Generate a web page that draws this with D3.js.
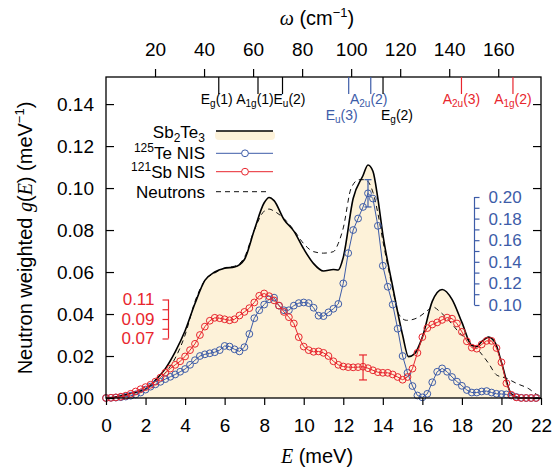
<!DOCTYPE html>
<html>
<head>
<meta charset="utf-8">
<script src="https://cdn.jsdelivr.net/npm/d3@7"></script>
<style>
body { margin: 0; background: #fff; }
svg { display: block; }
text { font-family: "Liberation Sans", Arial, sans-serif; }
</style>
</head>
<body>
<div id="vis"></div>
<script>
// Sb2Te3 total (neutron weighted) DOS
const sbEnergy = [0, 0.5, 1, 1.5, 2, 2.5, 3, 3.5, 4, 4.5, 5, 5.5, 6, 6.5, 7, 7.5, 8, 8.25, 8.5, 9, 9.5, 10, 10.5, 11, 11.5, 11.75, 12, 12.5, 13, 13.25, 13.5, 13.75, 14, 14.5, 15, 15.3, 15.6, 16, 16.5, 17, 17.5, 18, 18.5, 18.75, 19, 19.35, 19.7, 20, 20.5, 21, 21.5, 22];
const sbDos = [0, 0.0005, 0.0015, 0.0028, 0.0042, 0.0085, 0.014, 0.022, 0.032, 0.045, 0.056, 0.060, 0.0618, 0.0624, 0.066, 0.080, 0.093, 0.0955, 0.094, 0.085, 0.0795, 0.071, 0.064, 0.0605, 0.0612, 0.061, 0.067, 0.095, 0.106, 0.111, 0.108, 0.095, 0.078, 0.053, 0.030, 0.0197, 0.021, 0.029, 0.046, 0.0517, 0.047, 0.036, 0.025, 0.0245, 0.0268, 0.029, 0.026, 0.017, 0.002, 0, 0, 0];

// inelastic neutron scattering
const neutEnergy = [0, 0.5, 1, 1.5, 2, 2.5, 3, 3.5, 4, 4.5, 5, 5.5, 6, 6.5, 7, 7.5, 8, 8.25, 8.5, 9, 9.5, 10, 10.5, 11, 11.5, 11.75, 12, 12.4, 12.8, 13.1, 13.5, 13.75, 14, 14.5, 14.8, 15.2, 15.7, 16.3, 16.5, 16.9, 17.4, 17.9, 18.4, 18.9, 19.35, 19.75, 20.25, 20.75, 21.35, 21.85, 22];
const neutDos = [0, 0.0005, 0.0013, 0.0025, 0.004, 0.0075, 0.012, 0.019, 0.030, 0.046, 0.056, 0.0595, 0.062, 0.0628, 0.067, 0.080, 0.089, 0.090, 0.089, 0.0855, 0.080, 0.0735, 0.0697, 0.069, 0.0697, 0.0737, 0.081, 0.100, 0.104, 0.104, 0.098, 0.088, 0.075, 0.052, 0.040, 0.037, 0.038, 0.042, 0.0435, 0.041, 0.0363, 0.0308, 0.0268, 0.022, 0.0165, 0.011, 0.0094, 0.007, 0.0046, 0.0014, 0.001];

// NIS energy grid
const nisEnergy = [0, 0.25, 0.5, 0.75, 1, 1.25, 1.5, 1.75, 2, 2.25, 2.5, 2.75, 3, 3.25, 3.5, 3.75, 4, 4.25, 4.5, 4.75, 5, 5.25, 5.5, 5.75, 6, 6.25, 6.5, 6.75, 7, 7.25, 7.5, 7.75, 8, 8.25, 8.5, 8.75, 9, 9.25, 9.5, 9.75, 10, 10.25, 10.5, 10.75, 11, 11.25, 11.5, 11.75, 12, 12.25, 12.5, 12.75, 13, 13.25, 13.5, 13.75, 14, 14.25, 14.5, 14.75, 15, 15.25, 15.5, 15.75, 16, 16.25, 16.5, 16.75, 17, 17.25, 17.5, 17.75, 18, 18.25, 18.5, 18.75, 19, 19.25, 19.5, 19.75, 20, 20.25, 20.5, 20.75, 21, 21.25, 21.5, 21.75];

const teDos = [0, 0.0001, 0.0002, 0.0004, 0.0007, 0.0011, 0.0017, 0.0026, 0.0040, 0.0054, 0.0065, 0.0077, 0.0090, 0.0101, 0.0112, 0.0125, 0.0138, 0.0158, 0.0180, 0.0200, 0.0208, 0.0213, 0.0218, 0.0228, 0.0248, 0.0245, 0.0232, 0.0222, 0.0242, 0.0305, 0.0380, 0.0418, 0.0445, 0.0470, 0.0478, 0.0440, 0.0418, 0.0418, 0.0440, 0.0452, 0.0455, 0.0452, 0.0430, 0.0392, 0.0390, 0.0408, 0.0425, 0.0448, 0.0546, 0.0690, 0.0800, 0.0855, 0.0910, 0.0975, 0.0950, 0.0820, 0.0630, 0.0530, 0.0445, 0.0330, 0.0200, 0.0120, 0.0057, 0.0012, 0.0003, 0.0020, 0.0075, 0.0125, 0.0141, 0.0125, 0.0100, 0.0078, 0.0058, 0.0038, 0.0026, 0.0026, 0.0031, 0.0033, 0.0026, 0.0020, 0.0019, 0.0017, 0.0012, 0.0005, 0.0001, 0, 0, 0];

const sbNisDos = [0, 0.0001, 0.0003, 0.0006, 0.0011, 0.0020, 0.0031, 0.0042, 0.0052, 0.0063, 0.0078, 0.0097, 0.0120, 0.0140, 0.0158, 0.0175, 0.0198, 0.0228, 0.0258, 0.0300, 0.0340, 0.0368, 0.0382, 0.0380, 0.0375, 0.0370, 0.0375, 0.0393, 0.0410, 0.0428, 0.0455, 0.0487, 0.0498, 0.0485, 0.0465, 0.0440, 0.0410, 0.0385, 0.0355, 0.0290, 0.0245, 0.0228, 0.0220, 0.0222, 0.0215, 0.0200, 0.0175, 0.0158, 0.0150, 0.0147, 0.0146, 0.0147, 0.0149, 0.0142, 0.0132, 0.0123, 0.0120, 0.0120, 0.0112, 0.0100, 0.0087, 0.0100, 0.0140, 0.0215, 0.0290, 0.0333, 0.0350, 0.0360, 0.0372, 0.0383, 0.0378, 0.0355, 0.0315, 0.0270, 0.0240, 0.0235, 0.0255, 0.0272, 0.0272, 0.0238, 0.0170, 0.0070, 0.0015, 0.0003, 0, 0, 0, 0];

// error bars [E, low, high]
const teError = [13.25, 0.091, 0.104];
const sbError = [13.0, 0.0086, 0.0205];

// Raman / IR modes (cm^-1)
const modeNames = [['E', 'g', '(1)'], ['A', '1g', '(1)'], ['E', 'u', '(2)'], ['E', 'u', '(3)'], ['A', '2u', '(2)'], ['E', 'g', '(2)'], ['A', '2u', '(3)'], ['A', '1g', '(2)']];
const modeOmega = [46, 62, 72, 99, 108, 113, 145, 166];
const modeKind = ['black', 'black', 'black', 'blue', 'blue', 'black', 'red', 'red'];

const xTicks = [0, 2, 4, 6, 8, 10, 12, 14, 16, 18, 20, 22];
const yTicks = [0, 0.02, 0.04, 0.06, 0.08, 0.10, 0.12, 0.14];
const omegaTicks = [20, 40, 60, 80, 100, 120, 140, 160];
const teScaleTicks = [0.10, 0.11, 0.12, 0.13, 0.14, 0.15, 0.16, 0.17, 0.18, 0.19, 0.20];
const sbScaleTicks = [0.07, 0.08, 0.09, 0.10, 0.11];

const meVtoCm = 8.0655;

const width = 552, height = 472;
const margin = { top: 77, right: 11, bottom: 74, left: 106 };
const plotW = width - margin.left - margin.right;
const plotH = height - margin.top - margin.bottom;

const blue = '#3d5ca8';
const red = '#e8262e';
const cream = '#fdf2d9';

const svg = d3.select('#vis')
    .append('svg')
    .attr('width', width)
    .attr('height', height);

const x = d3.scaleLinear().domain([0, 22]).range([margin.left, margin.left + plotW]);
const xTop = d3.scaleLinear().domain([0, 22 * meVtoCm]).range([margin.left, margin.left + plotW]);
const yMax = 0.1529;
const y = d3.scaleLinear().domain([0, yMax]).range([margin.top + plotH, margin.top]);

// fill + black line
const sbData = sbEnergy.map((e, i) => ({ e, g: sbDos[i] }));
svg.append('path')
    .datum(sbData)
    .attr('fill', cream)
    .attr('d', d3.area().x(d => x(d.e)).y0(y(0)).y1(d => y(d.g)).curve(d3.curveMonotoneX));

const neutData = neutEnergy.map((e, i) => ({ e, g: neutDos[i] }));
svg.append('path')
    .datum(neutData)
    .attr('fill', 'none')
    .attr('stroke', '#111')
    .attr('stroke-width', 1)
    .attr('stroke-dasharray', '5,4')
    .attr('d', d3.line().x(d => x(d.e)).y(d => y(d.g)).curve(d3.curveMonotoneX));

svg.append('path')
    .datum(sbData)
    .attr('fill', 'none')
    .attr('stroke', '#000')
    .attr('stroke-width', 1.6)
    .attr('d', d3.line().x(d => x(d.e)).y(d => y(d.g)).curve(d3.curveMonotoneX));

// NIS series
function drawNis(values, color) {
    const data = nisEnergy.map((e, i) => ({ e, g: values[i] }));
    const g = svg.append('g');
    g.append('path')
        .datum(data)
        .attr('fill', 'none')
        .attr('stroke', color)
        .attr('stroke-width', 1)
        .attr('d', d3.line().x(d => x(d.e)).y(d => y(d.g)));
    g.selectAll('circle')
        .data(data)
        .join('circle')
        .attr('cx', d => x(d.e))
        .attr('cy', d => y(d.g))
        .attr('r', 3.4)
        .attr('fill', 'none')
        .attr('stroke', color)
        .attr('stroke-width', 1);
}
drawNis(teDos, blue);
drawNis(sbNisDos, red);

function errorBar(err, color, cap) {
    const g = svg.append('g').attr('stroke', color).attr('stroke-width', 1.2);
    g.append('line').attr('x1', x(err[0])).attr('x2', x(err[0])).attr('y1', y(err[1])).attr('y2', y(err[2]));
    g.append('line').attr('x1', x(err[0]) - cap).attr('x2', x(err[0]) + cap).attr('y1', y(err[1])).attr('y2', y(err[1]));
    g.append('line').attr('x1', x(err[0]) - cap).attr('x2', x(err[0]) + cap).attr('y1', y(err[2])).attr('y2', y(err[2]));
}
errorBar(teError, blue, 3.5);
errorBar(sbError, red, 4);

// axes
const bottomAxis = svg.append('g')
    .attr('transform', `translate(0,${margin.top + plotH})`)
    .call(d3.axisBottom(x).tickValues(xTicks).tickSize(7).tickPadding(14).tickFormat(d3.format('d')));
const leftAxis = svg.append('g')
    .attr('transform', `translate(${margin.left},0)`)
    .call(d3.axisLeft(y).tickValues(yTicks).tickSize(-8).tickPadding(12).tickFormat(d3.format('.2f')));
const rightAxis = svg.append('g')
    .attr('transform', `translate(${margin.left + plotW},0)`)
    .call(d3.axisRight(y).tickValues(yTicks).tickSize(-8).tickFormat(''));
const topAxis = svg.append('g')
    .attr('transform', `translate(0,${margin.top})`)
    .call(d3.axisTop(xTop).tickValues(omegaTicks).tickSize(8).tickPadding(13).tickFormat(d3.format('d')));

[bottomAxis, leftAxis, rightAxis, topAxis].forEach(a => {
    a.select('.domain').remove();
    a.selectAll('line').attr('stroke', '#000').attr('stroke-width', 1.2);
    a.selectAll('text').attr('font-size', 19).attr('font-family', '"Liberation Sans", Arial, sans-serif').attr('fill', '#000');
});

svg.append('rect')
    .attr('x', margin.left).attr('y', margin.top)
    .attr('width', plotW).attr('height', plotH)
    .attr('fill', 'none').attr('stroke', '#000').attr('stroke-width', 1.3);

// mode markers
const modeColor = { black: '#000', blue: blue, red: red };
const modeRow = [0, 0, 0, 1, 0, 1, 0, 0];
const modeDx = [-2, -3, 7, -7, -2, 14, 0, 0];
modeOmega.forEach((w, i) => {
    const c = modeColor[modeKind[i]];
    svg.append('line')
        .attr('x1', xTop(w)).attr('x2', xTop(w))
        .attr('y1', margin.top).attr('y2', margin.top + 17)
        .attr('stroke', c).attr('stroke-width', 1.2);
    const t = svg.append('text')
        .attr('x', xTop(w) + modeDx[i])
        .attr('y', modeRow[i] ? 119.5 : 104)
        .attr('text-anchor', 'middle')
        .attr('font-size', 14)
        .attr('fill', c);
    t.append('tspan').text(modeNames[i][0]);
    t.append('tspan').attr('font-size', 10).attr('dy', 3).text(modeNames[i][1]);
    t.append('tspan').attr('dy', -3).text(modeNames[i][2]);
});

// relative scale bars for NIS data
const teScale = d3.scaleLinear().domain([0.10, 0.20]).range([305, 197]);
const teAxis = svg.append('g')
    .attr('transform', 'translate(474.5,0)')
    .call(d3.axisRight(teScale).tickValues(teScaleTicks).tickSize(5).tickPadding(9)
        .tickFormat((d, i) => i % 2 === 0 ? d3.format('.2f')(d) : ''));
teAxis.select('.domain').attr('stroke', blue).attr('stroke-width', 1.2).attr('d', 'M0,305V197');
teAxis.selectAll('line').attr('stroke', blue).attr('stroke-width', 1.2);
teAxis.selectAll('text').attr('fill', blue).attr('font-size', 17).attr('font-family', '"Liberation Sans", Arial, sans-serif');

const sbScale = d3.scaleLinear().domain([0.07, 0.11]).range([338.5, 299.5]);
const sbAxis = svg.append('g')
    .attr('transform', 'translate(168.5,0)')
    .call(d3.axisLeft(sbScale).tickValues(sbScaleTicks).tickSize(6).tickPadding(8)
        .tickFormat((d, i) => i % 2 === 0 ? d3.format('.2f')(d) : ''));
sbAxis.select('.domain').attr('stroke', red).attr('stroke-width', 1.2).attr('d', 'M0,338.5V299.5');
sbAxis.selectAll('line').attr('stroke', red).attr('stroke-width', 1.2);
sbAxis.selectAll('text').attr('fill', red).attr('font-size', 17).attr('font-family', '"Liberation Sans", Arial, sans-serif');

// axis titles
const xTitle = svg.append('text')
    .attr('x', 317).attr('y', 463)
    .attr('text-anchor', 'middle')
    .attr('font-size', 20);
xTitle.append('tspan').attr('font-family', '"Liberation Serif", serif').attr('font-style', 'italic').text('E');
xTitle.append('tspan').text(' (meV)');

const topTitle = svg.append('text')
    .attr('x', 317).attr('y', 25)
    .attr('text-anchor', 'middle')
    .attr('font-size', 20);
topTitle.append('tspan').attr('font-family', '"Liberation Serif", serif').attr('font-style', 'italic').text('ω');
topTitle.append('tspan').text(' (cm');
topTitle.append('tspan').attr('font-size', 13).attr('dy', -8).text('−1');
topTitle.append('tspan').attr('dy', 8).text(')');

const yTitle = svg.append('text')
    .attr('transform', 'translate(32,238) rotate(-90)')
    .attr('text-anchor', 'middle')
    .attr('font-size', 20);
yTitle.append('tspan').text('Neutron weighted ');
yTitle.append('tspan').attr('font-family', '"Liberation Serif", serif').attr('font-style', 'italic').text('g');
yTitle.append('tspan').text('(');
yTitle.append('tspan').attr('font-family', '"Liberation Serif", serif').attr('font-style', 'italic').text('E');
yTitle.append('tspan').text(') (meV');
yTitle.append('tspan').attr('font-size', 13).attr('dy', -8).text('−1');
yTitle.append('tspan').attr('dy', 8).text(')');

// legend
const legend = svg.append('g').attr('font-size', 17);
const lx0 = 216, lx1 = 273, tx = 205;

legend.append('rect').attr('x', 215).attr('y', 131).attr('width', 60).attr('height', 9).attr('rx', 4).attr('fill', cream);
legend.append('line').attr('x1', lx0).attr('x2', lx1).attr('y1', 131).attr('y2', 131).attr('stroke', '#000').attr('stroke-width', 1.6);
const l1 = legend.append('text').attr('x', tx).attr('y', 137.5).attr('text-anchor', 'end');
l1.append('tspan').text('Sb');
l1.append('tspan').attr('font-size', 12).attr('dy', 4).text('2');
l1.append('tspan').attr('dy', -4).text('Te');
l1.append('tspan').attr('font-size', 12).attr('dy', 4).text('3');

[[153.3, blue, '125', 'Te NIS'], [171.7, red, '121', 'Sb NIS']].forEach(([ly, c, sup, name]) => {
    legend.append('line').attr('x1', lx0).attr('x2', lx1).attr('y1', ly).attr('y2', ly).attr('stroke', c).attr('stroke-width', 1);
    legend.append('circle').attr('cx', 245).attr('cy', ly).attr('r', 3.4).attr('fill', '#fff').attr('stroke', c).attr('stroke-width', 1);
    const t = legend.append('text').attr('x', tx).attr('y', ly + 6).attr('text-anchor', 'end');
    t.append('tspan').attr('font-size', 12).attr('dy', -7).text(sup);
    t.append('tspan').attr('dy', 7).text(name);
});

legend.append('line').attr('x1', lx0).attr('x2', 268).attr('y1', 191.7).attr('y2', 191.7)
    .attr('stroke', '#111').attr('stroke-width', 1).attr('stroke-dasharray', '5,4');
legend.append('text').attr('x', tx).attr('y', 197.7).attr('text-anchor', 'end').text('Neutrons');
</script>
</body>
</html>
